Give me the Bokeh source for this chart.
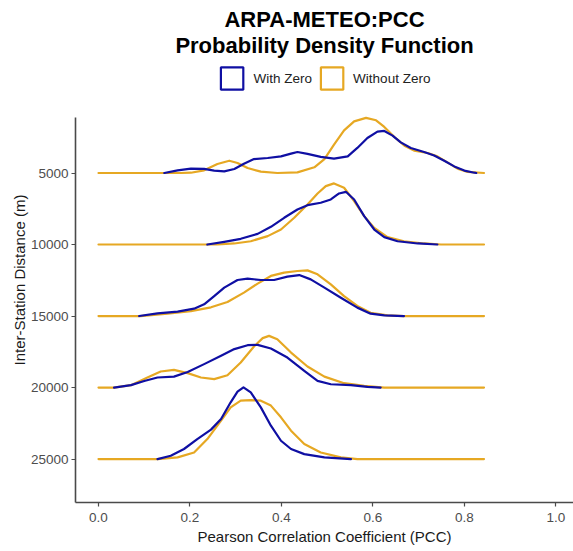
import numpy as np
from bokeh.plotting import figure
from bokeh.models import Range1d, Title, Legend, LegendItem, FixedTicker, NumeralTickFormatter
from bokeh.embed import file_html
from bokeh.resources import INLINE

# ---------------- data ----------------
distances = [5000, 10000, 15000, 20000, 25000]
x_ticks = [0.0, 0.2, 0.4, 0.6, 0.8, 1.0]
series_labels = ["With Zero", "Without Zero"]

# With Zero densities (PCC, density)
wz_5000_x = [0.144, 0.173, 0.202, 0.231, 0.253, 0.275, 0.297, 0.318, 0.340, 0.370, 0.399, 0.421, 0.435, 0.457, 0.486, 0.515, 0.545, 0.566, 0.588, 0.610, 0.625, 0.643, 0.661, 0.683, 0.712, 0.734, 0.756, 0.778, 0.800, 0.822, 0.826]
wz_5000_d = [0, .18, .29, .27, .16, .11, .27, .62, .93, 1.0, 1.11, 1.29, 1.4, 1.27, 1.07, .96, 1.11, 1.67, 2.33, 2.76, 2.8, 2.49, 2.04, 1.67, 1.4, 1.16, .82, .44, .16, .02, 0]
wz_10000_x = [0.238, 0.275, 0.311, 0.348, 0.377, 0.406, 0.435, 0.457, 0.486, 0.508, 0.526, 0.541, 0.559, 0.581, 0.603, 0.625, 0.654, 0.698, 0.741]
wz_10000_d = [0, .18, .38, .71, 1.18, 1.78, 2.33, 2.62, 2.78, 3.0, 3.4, 3.51, 3.0, 1.89, 1.0, .49, .22, .07, 0]
wz_15000_x = [0.089, 0.129, 0.173, 0.209, 0.231, 0.253, 0.275, 0.304, 0.326, 0.355, 0.384, 0.413, 0.439, 0.464, 0.494, 0.530, 0.566, 0.595, 0.625, 0.668]
wz_15000_d = [0, .18, .29, .49, .78, 1.33, 1.89, 2.4, 2.49, 2.4, 2.4, 2.62, 2.73, 2.44, 1.89, 1.22, .56, .16, .04, 0]
wz_20000_x = [0.034, 0.071, 0.100, 0.129, 0.165, 0.195, 0.231, 0.268, 0.297, 0.326, 0.348, 0.377, 0.413, 0.450, 0.479, 0.508, 0.552, 0.588, 0.617]
wz_20000_d = [0, .16, .44, .67, .73, 1.04, 1.56, 2.11, 2.56, 2.82, 2.84, 2.6, 2.0, 1.11, .44, .22, .16, .04, 0]
wz_25000_x = [0.129, 0.158, 0.187, 0.216, 0.246, 0.268, 0.289, 0.304, 0.317, 0.333, 0.355, 0.377, 0.399, 0.421, 0.450, 0.494, 0.552]
wz_25000_d = [0, .22, .67, 1.33, 1.96, 2.67, 3.78, 4.49, 4.78, 4.44, 3.44, 2.22, 1.22, .67, .33, .11, 0]

# Without Zero densities (PCC, density)
nz_5000_x = [0.0, 0.180, 0.202, 0.231, 0.260, 0.286, 0.304, 0.326, 0.355, 0.391, 0.435, 0.472, 0.494, 0.515, 0.537, 0.559, 0.585, 0.607, 0.625, 0.647, 0.669, 0.690, 0.720, 0.741, 0.763, 0.785, 0.807, 0.843]
nz_5000_d = [0, 0, .02, .18, .6, .82, .67, .33, .09, 0, .04, .38, .93, 1.89, 2.84, 3.44, 3.67, 3.51, 3.07, 2.4, 1.82, 1.49, 1.33, 1.11, .71, .29, .07, 0]
nz_10000_x = [0.0, 0.260, 0.297, 0.333, 0.370, 0.399, 0.428, 0.457, 0.479, 0.497, 0.515, 0.537, 0.559, 0.581, 0.603, 0.632, 0.668, 0.712, 0.749, 0.843]
nz_10000_d = [0, 0, .07, .22, .56, 1.0, 1.78, 2.67, 3.4, 3.89, 4.07, 3.78, 2.89, 1.89, 1.11, .49, .22, .07, 0, 0]
nz_15000_x = [0.0, 0.092, 0.151, 0.202, 0.246, 0.282, 0.318, 0.348, 0.377, 0.406, 0.435, 0.457, 0.479, 0.508, 0.537, 0.566, 0.595, 0.632, 0.668, 0.843]
nz_15000_d = [0, 0, .16, .33, .58, .93, 1.56, 2.16, 2.67, 2.89, 3.0, 3.04, 2.78, 2.11, 1.33, .67, .22, .04, 0, 0]
nz_20000_x = [0.0, 0.034, 0.071, 0.107, 0.136, 0.165, 0.195, 0.224, 0.253, 0.282, 0.311, 0.340, 0.359, 0.373, 0.391, 0.421, 0.457, 0.494, 0.537, 0.581, 0.625, 0.843]
nz_20000_d = [0, 0, .16, .67, 1.07, 1.18, .96, .67, .56, .82, 1.67, 2.73, 3.29, 3.44, 3.22, 2.33, 1.4, .73, .29, .11, 0, 0]
nz_25000_x = [0.0, 0.129, 0.173, 0.209, 0.238, 0.268, 0.289, 0.311, 0.333, 0.355, 0.377, 0.399, 0.421, 0.450, 0.486, 0.530, 0.566, 0.843]
nz_25000_d = [0, 0, .11, .44, 1.33, 2.56, 3.44, 3.89, 3.93, 3.89, 3.56, 2.78, 1.89, 1.0, .44, .11, 0, 0]

wz_x = [wz_5000_x, wz_10000_x, wz_15000_x, wz_20000_x, wz_25000_x]
wz_d = [wz_5000_d, wz_10000_d, wz_15000_d, wz_20000_d, wz_25000_d]
nz_x = [nz_5000_x, nz_10000_x, nz_15000_x, nz_20000_x, nz_25000_x]
nz_d = [nz_5000_d, nz_10000_d, nz_15000_d, nz_20000_d, nz_25000_d]

# ---------------- styling ----------------
SCALE = 1050.0  # density -> distance units (ridge height)
BLUE = "#0f0fa3"
GOLD = "#e6a823"
AXIS = "#4a4a4a"
FONT = "Liberation Sans"
Y_AXIS_START, Y_AXIS_END = 1123, 28037   # extent of the drawn y axis line

p = figure(width=573, height=551, output_backend="svg", toolbar_location=None,
           x_range=Range1d(-0.0503, 1.0387), y_range=Range1d(Y_AXIS_END, -3076),
           title=None, min_border_left=75, min_border_right=0, min_border_bottom=49,
           min_border_top=57)
p.outline_line_color = None
p.xgrid.visible = False
p.ygrid.visible = False
p.background_fill_color = "white"
p.border_fill_color = "white"


def ridge(xs_list, ds_list):
    xs, ys = [], []
    for base, xv, dv in zip(distances, xs_list, ds_list):
        xs.append(list(xv))
        ys.append([base - d * SCALE for d in dv])
    return xs, ys

gx, gy = ridge(nz_x, nz_d)
bx, by = ridge(wz_x, wz_d)
p.multi_line(gx, gy, line_color=GOLD, line_width=2.2, line_join="round", line_cap="round")
p.multi_line(bx, by, line_color=BLUE, line_width=2.2, line_join="round", line_cap="round")

# legend keys (outlined squares); one empty (NaN) shape each so the key has a style row
nan_shape = [np.array([np.nan])]
k_blue = p.patches(xs=nan_shape, ys=nan_shape, fill_alpha=0, line_color=BLUE, line_width=2.2)
k_gold = p.patches(xs=nan_shape, ys=nan_shape, fill_alpha=0, line_color=GOLD, line_width=2.2)

# axes
for ax in (p.xaxis[0], p.yaxis[0]):
    ax.axis_line_color = AXIS
    ax.axis_line_width = 1.6
    ax.major_tick_line_color = AXIS
    ax.major_tick_line_width = 1.2
    ax.major_tick_out = 4
    ax.major_tick_in = 0
    ax.minor_tick_line_color = None
    ax.major_label_text_color = "#4d4d4d"
    ax.major_label_text_font = FONT
    ax.major_label_text_font_size = "13.5px"
    ax.axis_label_text_font = FONT
    ax.axis_label_text_font_size = "15px"
    ax.axis_label_text_font_style = "normal"
    ax.axis_label_text_color = "#1a1a1a"

p.xaxis.ticker = FixedTicker(ticks=x_ticks)
p.xaxis.formatter = NumeralTickFormatter(format="0.0")
p.xaxis.axis_label = "Pearson Correlation Coefficient (PCC)"
p.xaxis.major_label_standoff = 6
p.xaxis.axis_label_standoff = 3

p.yaxis.ticker = FixedTicker(ticks=distances)
p.yaxis.formatter = NumeralTickFormatter(format="0")
p.yaxis.bounds = (Y_AXIS_START, Y_AXIS_END)
p.yaxis.axis_label = "Inter-Station Distance (m)"
p.yaxis.major_label_standoff = 3
p.yaxis.axis_label_standoff = 0

# legend at the top of the plotting area
legend = Legend(items=[LegendItem(label=series_labels[0], renderers=[k_blue]),
                       LegendItem(label=series_labels[1], renderers=[k_gold])],
                orientation="horizontal", location="top_center",
                glyph_width=28, glyph_height=28, label_standoff=8, spacing=5,
                padding=0, margin=7, border_line_color=None, background_fill_alpha=0,
                label_text_font=FONT, label_text_font_size="13.5px", label_text_color="#222222")
p.add_layout(legend, "center")

p.add_layout(Title(text="Probability Density Function", align="center", text_font=FONT,
                   text_font_size="22px", text_font_style="bold", text_color="black", standoff=-1), "above")
p.add_layout(Title(text="ARPA-METEO:PCC", align="center", text_font=FONT,
                   text_font_size="22px", text_font_style="bold", text_color="black", standoff=0), "above")

open("out.html", "w").write(file_html(p, INLINE))
